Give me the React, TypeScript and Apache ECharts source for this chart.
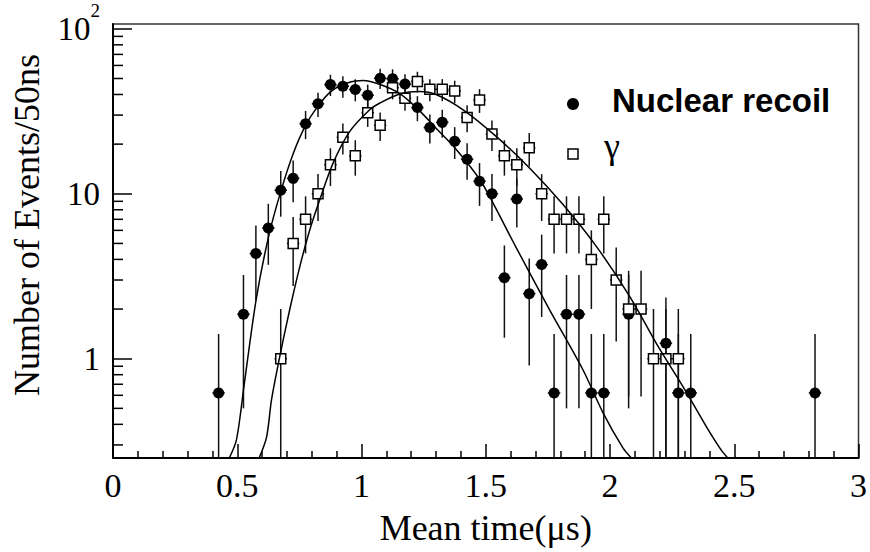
import React, { useEffect, useRef } from "react";
import * as echarts from "echarts";

// Nuclear recoil histogram (bin centres, contents, errors)
const nrX = [0.425, 0.525, 0.575, 0.625, 0.675, 0.725, 0.775, 0.825, 0.875, 0.925, 0.975, 1.025, 1.075, 1.125, 1.175, 1.225, 1.275, 1.325, 1.375, 1.425, 1.475, 1.525, 1.575, 1.625, 1.675, 1.725, 1.775, 1.825, 1.875, 1.925, 1.975, 2.075, 2.225, 2.275, 2.325, 2.825];
const nrY = [0.62, 1.86, 4.34, 6.2, 10.5, 12.4, 26.6, 35.1, 45.9, 44.9, 42.9, 39.6, 50.2, 49.8, 46.3, 33.3, 25.2, 27.1, 20.8, 16.2, 11.9, 10.0, 3.1, 9.3, 2.48, 3.72, 0.62, 1.86, 1.86, 0.62, 0.62, 1.86, 1.24, 0.62, 0.62, 0.62];
const nrErr = [0.79, 1.36, 2.08, 2.49, 3.24, 3.52, 5.16, 5.92, 6.77, 6.7, 6.55, 6.29, 7.09, 7.06, 6.8, 5.77, 5.02, 5.21, 4.56, 4.02, 3.45, 3.16, 1.76, 3.05, 1.57, 1.93, 0.79, 1.36, 1.36, 0.79, 0.79, 1.36, 1.11, 0.79, 0.79, 0.79];

// Gamma histogram
const gammaX = [0.675, 0.725, 0.775, 0.825, 0.875, 0.925, 0.975, 1.025, 1.075, 1.125, 1.175, 1.225, 1.275, 1.325, 1.375, 1.425, 1.475, 1.525, 1.575, 1.625, 1.675, 1.725, 1.775, 1.825, 1.875, 1.925, 1.975, 2.025, 2.075, 2.125, 2.175, 2.225, 2.275];
const gammaY = [1, 5, 7, 10, 15, 22, 17, 31, 26, 44, 38, 48, 43, 43, 42, 29, 37, 23, 17, 15, 19, 10, 7, 7, 7, 4, 7, 3, 2, 2, 1, 1, 1];
const gammaErr = [1, 2.24, 2.65, 3.16, 3.87, 4.69, 4.12, 5.57, 5.1, 6.63, 6.16, 6.93, 6.56, 6.56, 6.48, 5.39, 6.08, 4.8, 4.12, 3.87, 4.36, 3.16, 2.65, 2.65, 2.65, 2, 2.65, 1.73, 1.41, 1.41, 1, 1, 1];

// Fitted curves
const nrFitX = [0.468, 0.497, 0.527, 0.576, 0.626, 0.675, 0.725, 0.775, 0.825, 0.875, 0.925, 0.975, 1.006, 1.075, 1.154, 1.228, 1.3, 1.382, 1.476, 1.529, 1.623, 1.757, 1.891, 1.972, 2.052, 2.086];
const nrFitY = [0.25, 0.323, 0.68, 2.28, 5.5, 10.3, 17.5, 26, 34, 41.5, 46, 48.3, 48.6, 46, 40.5, 32.5, 25, 18.5, 12.2, 8.8, 4.7, 1.98, 0.857, 0.47, 0.288, 0.25];
const gammaFitX = [0.588, 0.618, 0.638, 0.671, 0.711, 0.752, 0.792, 0.832, 0.886, 0.953, 1.033, 1.074, 1.154, 1.234, 1.3, 1.409, 1.543, 1.677, 1.811, 1.945, 2.079, 2.199, 2.293, 2.387, 2.447, 2.474];
const gammaFitY = [0.25, 0.335, 0.565, 1.03, 1.98, 3.63, 6.05, 9.2, 15.4, 23.9, 32.3, 35.5, 40.3, 41.7, 40, 32.3, 22.2, 14.3, 8.6, 4.8, 2.39, 1.15, 0.68, 0.389, 0.28, 0.25];

const yMinorTicks = [0.3, 0.4, 0.5, 0.6, 0.7, 0.8, 0.9, 2, 3, 4, 5, 6, 7, 8, 9, 20, 30, 40, 50, 60, 70, 80, 90];
const binHalfWidth = 0.025;

const xTitle = "Mean time(\u03bcs)";
const yTitle = "Number of Events/50ns";
const legendNames = ["Nuclear recoil", "\u03b3"];

export default function App() {
  const ref = useRef<HTMLDivElement>(null);
  useEffect(() => {
    document.body.style.margin = "0";
    const chart = echarts.init(ref.current as HTMLDivElement, null, { renderer: "svg" });
    const serif = "'Liberation Serif', 'Times New Roman', serif";
    const sans = "'Liberation Sans', Arial, sans-serif";

    const renderErr = (params: any, api: any) => {
      const x = api.value(0);
      const y = api.value(1);
      const e = api.value(2);
      const lo = y - e > 0 ? y - e : 1e-3;
      const pTop = api.coord([x, y + e]);
      const pBot = api.coord([x, lo]);
      const pL = api.coord([x - binHalfWidth, y]);
      const pR = api.coord([x + binHalfWidth, y]);
      return {
        type: "group",
        children: [
          { type: "line", shape: { x1: pTop[0], y1: pTop[1], x2: pBot[0], y2: pBot[1] }, style: { stroke: "#111", lineWidth: 1.5 } },
          { type: "line", shape: { x1: pL[0], y1: pL[1], x2: pR[0], y2: pR[1] }, style: { stroke: "#111", lineWidth: 1.5 } },
        ],
      };
    };

    const renderMinor = (params: any, api: any) => {
      const p = api.coord([0, api.value(1)]);
      return { type: "line", shape: { x1: p[0], y1: p[1], x2: p[0] + 10, y2: p[1] }, style: { stroke: "#000", lineWidth: 1.5 } };
    };

    chart.setOption({
      animation: false,
      backgroundColor: "#fff",
      grid: { left: 113, right: 11, top: 24, bottom: 94, show: true, borderColor: "#333", borderWidth: 1.5, backgroundColor: "transparent" },
      xAxis: {
        type: "value",
        min: 0,
        max: 3,
        interval: 0.5,
        name: xTitle,
        nameLocation: "middle",
        nameGap: 52,
        nameTextStyle: { fontFamily: serif, fontSize: 36, color: "#000" },
        axisLine: { show: true, onZero: false, lineStyle: { color: "#000", width: 2 } },
        axisTick: { show: true, inside: true, length: 14, lineStyle: { color: "#000", width: 1.5 } },
        minorTick: { show: true, splitNumber: 5, length: 7, lineStyle: { color: "#000", width: 1.5 } },
        splitLine: { show: false },
        axisLabel: { fontFamily: serif, fontSize: 34, color: "#000", margin: 10 },
      },
      yAxis: {
        type: "log",
        logBase: 10,
        min: 0.25,
        max: 107,
        name: yTitle,
        nameLocation: "middle",
        nameGap: 68,
        nameTextStyle: { fontFamily: serif, fontSize: 36, color: "#000", padding: [0, 0, 0, 32] },
        axisLine: { show: true, onZero: false, lineStyle: { color: "#000", width: 2 } },
        axisTick: { show: true, inside: true, length: 19, lineStyle: { color: "#000", width: 1.5 } },
        splitLine: { show: false },
        axisLabel: {
          showMinLabel: false,
          showMaxLabel: false,
          margin: 13,
          formatter: (v: number) => {
            const p = Math.round(Math.log10(v));
            if (p === 2) return "{b|10}{s|2}";
            if (p === 1) return "{b|10}";
            return "{b|1}";
          },
          rich: {
            b: { fontFamily: serif, fontSize: 33, color: "#000" },
            s: { fontFamily: serif, fontSize: 19, color: "#000", padding: [0, 0, 36, 0] },
          },
        },
      },
      series: [
        {
          type: "custom",
          name: "yMinor",
          silent: true,
          renderItem: renderMinor,
          data: yMinorTicks.map((v) => [0, v]),
          z: 1,
        },
        {
          type: "custom",
          name: "nrErr",
          silent: true,
          clip: true,
          renderItem: renderErr,
          data: nrX.map((x, i) => [x, nrY[i], nrErr[i]]),
          z: 2,
        },
        {
          type: "custom",
          name: "gammaErr",
          silent: true,
          clip: true,
          renderItem: renderErr,
          data: gammaX.map((x, i) => [x, gammaY[i], gammaErr[i]]),
          z: 2,
        },
        {
          type: "scatter",
          name: legendNames[0],
          symbol: "circle",
          symbolSize: 11,
          silent: true,
          itemStyle: { color: "#000", opacity: 1 },
          data: nrX.map((x, i) => [x, nrY[i]]),
          z: 3,
        },
        {
          type: "scatter",
          name: legendNames[1],
          symbol: "rect",
          symbolSize: 10,
          silent: true,
          itemStyle: { color: "#fff", borderColor: "#000", borderWidth: 1.5, opacity: 1 },
          data: gammaX.map((x, i) => [x, gammaY[i]]),
          z: 3,
        },
        {
          type: "line",
          name: "nrFit",
          showSymbol: false,
          smooth: 0.3,
          clip: true,
          silent: true,
          lineStyle: { color: "#000", width: 1.5 },
          data: nrFitX.map((x, i) => [x, nrFitY[i]]),
          z: 4,
        },
        {
          type: "line",
          name: "gammaFit",
          showSymbol: false,
          smooth: 0.3,
          clip: true,
          silent: true,
          lineStyle: { color: "#000", width: 1.5 },
          data: gammaFitX.map((x, i) => [x, gammaFitY[i]]),
          z: 4,
        },
      ],
      graphic: [
        { type: "circle", shape: { cx: 573, cy: 104, r: 6 }, style: { fill: "#000" }, z: 10 },
        { type: "text", x: 612, y: 100, style: { text: legendNames[0], font: "bold 33px " + sans, fill: "#000", verticalAlign: "middle" }, z: 10 },
        { type: "rect", shape: { x: 568, y: 149, width: 10, height: 10 }, style: { fill: "#fff", stroke: "#000", lineWidth: 1.5 }, z: 10 },
        { type: "text", x: 604, y: 146, style: { text: legendNames[1], font: "36px " + serif, fill: "#000", verticalAlign: "middle" }, z: 10 },
      ],
    });
    return () => chart.dispose();
  }, []);
  return <div ref={ref} style={{ width: 870, height: 552 }} />;
}
